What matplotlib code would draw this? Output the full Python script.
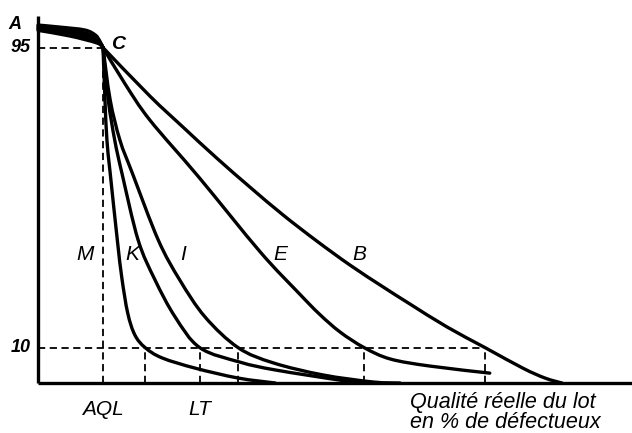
#!/usr/bin/env python3
"""
Courbes d'efficacité (OC) de plans d'échantillonnage - tracé schématique
"""

import numpy as np
import matplotlib.pyplot as plt
from matplotlib.path import Path
from matplotlib.patches import PathPatch

# x : qualité réelle du lot (AQL = 1), y : probabilité d'acceptation (%)
AQL = 1.0
LT = 2.49

curve_names = ["M", "K", "I", "E", "B"]

# abscisses où chaque courbe coupe le niveau 10 %
x_at_10 = [1.65, 2.49, 3.08, 5.02, 6.88]

# partie haute (avant le point C) et partie basse (après C) de chaque courbe
top_m_x = [0.0, 0.35, 0.72, 0.88, 0.95, 1.0]
top_m_y = [101.4, 100.8, 100.0, 98.6, 96.9, 95.0]
low_m_x = [1.0, 1.03, 1.06, 1.11, 1.22, 1.29, 1.38, 1.49, 1.65, 1.91, 2.42, 3.08, 3.65]
low_m_y = [95.0, 80.2, 68.8, 59.5, 40.5, 29.7, 19.8, 13.6, 10.0, 7.1, 4.2, 1.4, 0.0]

top_k_x = [0.0, 0.5, 0.85, 0.95, 1.0]
top_k_y = [101.0, 100.2, 98.3, 96.6, 95.0]
low_k_x = [1.0, 1.08, 1.18, 1.29, 1.54, 1.80, 2.11, 2.49, 3.11, 3.65, 4.65, 5.03]
low_k_y = [95.0, 80.2, 68.8, 59.5, 40.5, 29.2, 18.7, 10.0, 5.9, 3.7, 0.8, 0.0]

top_i_x = [0.0, 0.5, 0.85, 0.95, 1.0]
top_i_y = [100.6, 99.6, 97.8, 96.4, 95.0]
low_i_x = [1.0, 1.11, 1.26, 1.45, 1.85, 2.18, 2.57, 3.08, 3.62, 4.38, 5.15, 5.57]
low_i_y = [95.0, 80.2, 68.8, 59.5, 40.5, 29.2, 18.7, 10.0, 5.7, 2.3, 0.3, 0.0]

top_e_x = [0.0, 0.5, 0.88, 1.0]
top_e_y = [100.3, 99.0, 97.0, 95.0]
low_e_x = [1.0, 1.34, 1.72, 2.47, 3.42, 4.01, 4.33, 4.65, 5.02, 5.42, 6.03, 6.95]
low_e_y = [95.0, 84.7, 74.5, 58.4, 37.1, 25.5, 19.5, 14.4, 10.0, 6.8, 4.8, 2.8]

top_b_x = [0.0, 0.49, 0.91, 1.0]
top_b_y = [99.9, 98.3, 96.3, 95.0]
low_b_x = [1.0, 1.72, 2.23, 2.75, 3.26, 3.77, 4.29, 4.80, 5.31, 5.72, 6.29, 6.88, 7.46, 7.80, 8.06]
low_b_y = [95.0, 81.3, 72.5, 63.7, 55.5, 47.6, 40.2, 33.4, 27.2, 22.4, 15.9, 10.0, 4.2, 1.4, 0.0]

segments = [
    (top_m_x, top_m_y), (low_m_x, low_m_y),
    (top_k_x, top_k_y), (low_k_x, low_k_y),
    (top_i_x, top_i_y), (low_i_x, low_i_y),
    (top_e_x, top_e_y), (low_e_x, low_e_y),
    (top_b_x, top_b_y), (low_b_x, low_b_y),
]

label_x = [0.72, 1.45, 2.23, 3.73, 4.95]
label_y = 36.3


def smooth_path(xs, ys):
    """Bezier (Catmull-Rom) passing through the given points."""
    p = np.column_stack([xs, ys])
    n = len(p)
    verts = [p[0]]
    codes = [Path.MOVETO]
    for i in range(n - 1):
        p0 = p[i - 1] if i > 0 else p[i]
        p3 = p[i + 2] if i + 2 < n else p[i + 1]
        c1 = p[i] + (p[i + 1] - p0) / 6.0
        c2 = p[i + 1] - (p3 - p[i]) / 6.0
        verts += [c1, c2, p[i + 1]]
        codes += [Path.CURVE4] * 3
    return Path(verts, codes)


plt.rcParams["font.family"] = ["Liberation Sans", "DejaVu Sans"]

fig = plt.figure(figsize=(6.32, 4.33), dpi=100)
ax = fig.add_axes([0, 0, 1, 1])
ax.set_xlim(-0.585, 9.138)
ax.set_ylim(-14.16, 108.5)
ax.axis("off")

lw = 2.4
dash = dict(color="black", lw=1.3, ls=(0, (4, 2.5)))

# axes dessinés à la main
ax.plot([0, 0], [0, 104], color="black", lw=lw, solid_capstyle="butt")
ax.plot([0, 9.138], [0, 0], color="black", lw=lw, solid_capstyle="butt")

# repères en pointillés
ax.plot([0, AQL], [95, 95], **dash)
ax.plot([AQL, AQL], [0, 95], **dash)
ax.plot([0, max(x_at_10)], [10, 10], **dash)
for xv in x_at_10:
    ax.plot([xv, xv], [0, 10], **dash)

# courbes
for xs, ys in segments:
    ax.add_patch(PathPatch(smooth_path(xs, ys), fill=False, edgecolor="black",
                           lw=lw, capstyle="round", joinstyle="round"))

txt = dict(style="italic", color="black")
ax.text(-0.354, 101.7, "A", ha="center", va="center", fontsize=13,
        fontweight="bold", **txt)
ax.text(-0.11, 95, "95", ha="right", va="center", fontsize=13,
        fontweight="bold", **txt)
ax.text(-0.11, 10, "10", ha="right", va="center", fontsize=13,
        fontweight="bold", **txt)
ax.text(1.23, 95.8, "C", ha="center", va="center", fontsize=14,
        fontweight="bold", **txt)

for name, lx in zip(curve_names, label_x):
    ax.text(lx, label_y, name, ha="center", va="center", fontsize=15, **txt)

ax.text(AQL, -7.6, "AQL", ha="center", va="center", fontsize=15, **txt)
ax.text(LT, -7.6, "LT", ha="center", va="center", fontsize=15, **txt)
ax.text(5.72, -7.1, "Qualité réelle du lot", ha="left", va="baseline",
        fontsize=15.5, **txt)
ax.text(5.72, -12.7, "en % de défectueux", ha="left", va="baseline",
        fontsize=15.5, **txt)

fig.savefig("out.png", dpi=100)
